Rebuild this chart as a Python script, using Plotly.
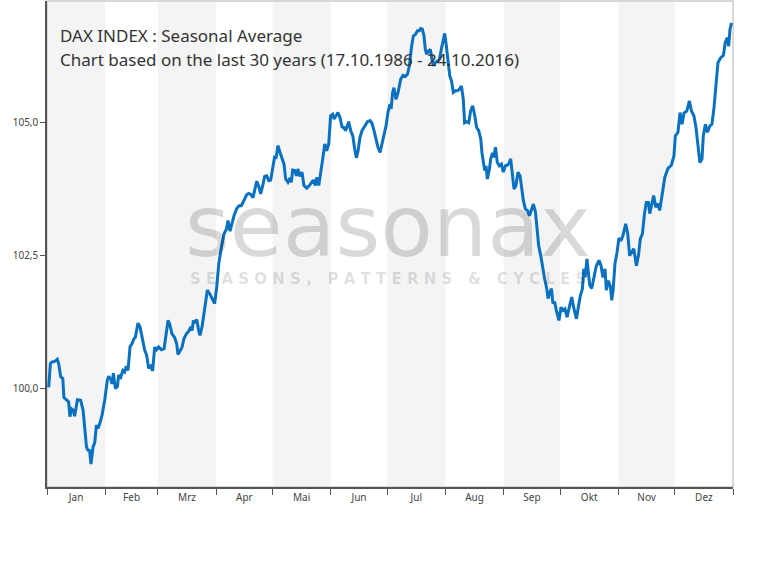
import plotly.graph_objects as go

# Seasonal average, day of year vs index value
days = [0.9, 1.8, 2.7, 4.1, 5.5, 6.2, 7.3, 8.4, 9.0, 10.5, 11.5, 12.2, 13.0, 14.0, 14.7, 16.2, 17.9, 19.2, 20.1, 21.0,
        21.8, 22.7, 23.4, 24.5, 25.4, 26.3, 27.1, 28.0, 29.3, 30.7, 32.1, 32.8, 33.9, 34.6, 35.3, 36.4, 37.5, 38.1, 39.2, 40.4,
        41.3, 42.2, 43.1, 44.2, 45.2, 46.3, 47.0, 48.4, 49.5, 50.5, 52.0, 53.0, 54.1, 55.2, 56.2, 57.3, 58.3, 59.4, 60.9, 62.3,
        63.5, 64.4, 65.3, 66.5, 67.9, 69.0, 69.7, 70.8, 71.8, 72.9, 74.2, 75.4, 76.5, 77.2, 77.9, 78.6, 79.7, 80.7, 81.4, 82.5,
        83.5, 83.9, 85.3, 86.6, 87.8, 89.2, 90.3, 91.4, 92.8, 94.2, 95.5, 96.3, 97.4, 98.4, 99.5, 100.9, 102.2, 103.4, 104.8, 106.3,
        107.3, 108.4, 109.6, 110.5, 111.6, 112.7, 113.7, 114.8, 115.8, 116.9, 118.0, 119.0, 120.1, 121.2, 121.8, 122.9, 124.0, 125.0, 126.1, 127.0,
        128.2, 129.3, 130.0, 130.7, 131.8, 132.7, 133.5, 134.6, 135.7, 136.7, 138.2, 139.6, 140.7, 141.7, 142.8, 143.5, 144.6, 145.6, 146.7, 147.8,
        148.8, 149.9, 150.9, 152.0, 152.7, 153.8, 154.8, 155.9, 157.0, 158.0, 158.8, 159.8, 160.5, 161.6, 162.7, 163.7, 164.6, 165.5, 166.5, 167.6,
        169.0, 170.5, 171.9, 172.9, 174.0, 175.3, 176.1, 177.2, 178.2, 179.3, 180.4, 181.4, 182.5, 183.1, 183.9, 184.6, 185.7, 186.8, 188.2, 189.4,
        190.7, 191.8, 192.8, 193.9, 194.9, 196.0, 197.1, 198.1, 198.8, 199.7, 200.6, 201.3, 202.0, 203.1, 204.0, 204.8, 205.7, 206.6, 207.7, 208.8,
        209.8, 210.7, 211.6, 212.5, 213.4, 214.3, 215.2, 216.2, 217.3, 218.4, 219.4, 220.5, 221.5, 222.2, 223.3, 224.4, 225.4, 226.5, 227.6, 228.6,
        229.7, 230.8, 231.4, 232.2, 232.9, 233.6, 234.3, 235.4, 236.1, 237.1, 237.8, 238.6, 239.6, 240.7, 241.8, 242.8, 243.9, 245.0, 246.0, 246.7,
        247.4, 248.5, 249.5, 250.6, 251.7, 252.4, 253.5, 254.5, 255.6, 256.7, 257.7, 258.8, 259.9, 260.9, 261.6, 262.7, 263.7, 264.8, 265.9, 266.6,
        267.6, 268.4, 269.2, 270.1, 271.0, 272.4, 273.5, 274.5, 275.6, 276.7, 278.1, 279.2, 280.2, 281.7, 282.7, 283.8, 284.9, 285.6, 286.3, 287.3,
        288.1, 288.8, 289.8, 290.9, 292.3, 293.7, 294.8, 295.8, 296.9, 297.6, 298.7, 299.8, 300.5, 301.2, 302.2, 303.3, 304.3, 305.4, 306.5, 307.9,
        309.0, 310.0, 311.1, 312.2, 313.6, 314.7, 315.7, 316.8, 317.9, 318.9, 320.0, 320.7, 321.8, 322.8, 323.9, 325.0, 326.0, 327.1, 328.1, 328.7,
        330.4, 332.2, 333.6, 334.3, 335.7, 336.8, 337.9, 338.9, 340.4, 341.8, 342.9, 344.2, 345.3, 346.4, 347.4, 348.5, 349.2, 350.3, 351.4, 352.7,
        353.8, 354.9, 355.9, 357.0, 358.4, 359.9, 360.9, 362.0, 362.7, 363.4, 364.2]

values = [100.02, 100.47, 100.50, 100.51, 100.55, 100.47, 100.22, 100.19, 99.83, 99.79, 99.75, 99.47, 99.62, 99.59, 99.48, 99.79, 99.78, 99.59, 99.22, 98.90,
          98.84, 98.83, 98.58, 98.90, 98.98, 99.31, 99.25, 99.33, 99.50, 99.78, 100.16, 100.23, 100.17, 100.09, 100.29, 100.00, 100.04, 100.25, 100.21, 100.34,
          100.31, 100.42, 100.34, 100.79, 100.84, 100.94, 100.96, 101.23, 101.16, 100.97, 100.72, 100.63, 100.38, 100.42, 100.33, 100.78, 100.73, 100.78, 100.73, 100.75,
          101.09, 101.28, 101.21, 101.03, 100.96, 100.84, 100.64, 100.71, 100.77, 100.94, 101.03, 101.08, 101.16, 101.09, 101.28, 101.23, 101.30, 101.09, 101.00, 101.16,
          101.42, 101.48, 101.85, 101.78, 101.69, 101.60, 101.91, 102.35, 102.66, 102.91, 103.00, 103.16, 102.96, 103.11, 103.25, 103.38, 103.44, 103.44, 103.55, 103.65,
          103.67, 103.65, 103.59, 103.75, 103.90, 103.80, 103.66, 103.82, 103.99, 104.00, 103.91, 103.92, 104.19, 104.38, 104.32, 104.57, 104.44, 104.35, 104.22, 103.94,
          103.88, 103.96, 103.88, 104.11, 104.10, 104.00, 104.13, 103.99, 104.07, 103.82, 103.77, 103.82, 103.88, 103.92, 103.82, 103.97, 103.82, 104.10, 104.32, 104.60,
          104.47, 104.60, 105.13, 105.16, 105.07, 105.13, 105.19, 105.10, 104.92, 104.91, 104.85, 104.94, 105.02, 104.85, 104.75, 104.51, 104.34, 104.47, 104.72, 104.85,
          104.94, 105.02, 105.04, 104.99, 104.85, 104.66, 104.54, 104.44, 104.60, 104.82, 104.94, 105.19, 105.35, 105.26, 105.57, 105.66, 105.44, 105.57, 105.82, 105.89,
          105.87, 105.91, 106.07, 106.41, 106.63, 106.66, 106.73, 106.73, 106.77, 106.76, 106.63, 106.38, 106.29, 106.35, 106.38, 106.19, 106.07, 106.13, 106.16, 106.19,
          106.38, 106.54, 106.68, 106.44, 106.19, 105.88, 105.79, 105.57, 105.60, 105.60, 105.63, 105.69, 105.44, 105.00, 105.02, 105.00, 105.22, 105.32, 105.13, 104.91,
          104.85, 104.69, 104.44, 104.25, 104.10, 104.19, 103.94, 104.13, 104.32, 104.43, 104.35, 104.54, 104.25, 104.19, 104.22, 104.07, 104.19, 104.20, 104.25, 104.32,
          104.07, 103.75, 103.82, 104.07, 104.00, 103.78, 103.53, 103.38, 103.35, 103.25, 103.38, 103.47, 103.32, 103.00, 102.69, 102.50, 102.25, 102.06, 101.88, 101.69,
          101.81, 101.88, 101.60, 101.63, 101.47, 101.28, 101.53, 101.47, 101.50, 101.34, 101.56, 101.72, 101.53, 101.31, 101.53, 101.75, 101.88, 102.25, 102.09, 102.44,
          102.16, 101.94, 101.88, 102.09, 102.31, 102.41, 102.31, 102.09, 102.25, 101.85, 102.03, 101.91, 101.66, 101.85, 102.35, 102.56, 102.83, 102.78, 102.88, 103.10,
          102.91, 102.50, 102.56, 102.63, 102.31, 102.50, 102.82, 102.91, 103.29, 103.50, 103.50, 103.29, 103.47, 103.63, 103.41, 103.48, 103.35, 103.60, 103.88, 103.97,
          104.14, 104.20, 104.38, 104.75, 104.82, 105.19, 104.97, 105.18, 105.22, 105.41, 105.22, 105.13, 104.91, 104.51, 104.25, 104.32, 104.75, 104.97, 104.82, 104.94,
          104.97, 105.29, 105.69, 106.13, 106.22, 106.27, 106.51, 106.60, 106.44, 106.76, 106.88]

month_labels = ["Jan", "Feb", "Mrz", "Apr", "Mai", "Jun", "Jul", "Aug", "Sep", "Okt", "Nov", "Dez"]
month_starts = [0, 31, 59, 90, 120, 151, 181, 212, 243, 273, 304, 334, 365]
y_ticks = [100.0, 102.5, 105.0]

title_lines = ["DAX INDEX : Seasonal Average",
               "Chart based on the last 30 years (17.10.1986 - 24.10.2016)"]

month_mid = [(month_starts[i] + month_starts[i + 1]) / 2 for i in range(12)]

fig = go.Figure()
fig.add_trace(go.Scatter(x=days, y=values, mode="lines",
                         line=dict(color="#0a70c0", width=3), hoverinfo="skip"))

shapes = []
for i in range(0, 12, 2):
    shapes.append(dict(type="rect", xref="x", yref="paper",
                       x0=month_starts[i], x1=month_starts[i + 1], y0=0, y1=1,
                       fillcolor="#f4f4f4", line=dict(width=0), layer="below"))
shapes.append(dict(type="rect", xref="paper", yref="paper", x0=0, x1=1, y0=0, y1=1,
                   line=dict(color="#cccccc", width=1.5), layer="below"))

axis_font = dict(family="Noto Sans", size=10, color="#444444")

fig.update_layout(
    width=775, height=567,
    margin=dict(l=47, r=42, t=1, b=80),
    paper_bgcolor="white", plot_bgcolor="white",
    separators=",.",
    showlegend=False,
    shapes=shapes,
    xaxis=dict(range=[0, 365], tickvals=month_mid, ticktext=month_labels,
               ticks="", showgrid=False, zeroline=False, automargin=False,
               showline=True, linecolor="#555555", linewidth=1.5,
               tickfont=axis_font,
               minor=dict(tickvals=month_starts, ticks="outside", ticklen=6,
                          tickcolor="#555555", tickwidth=1, showgrid=False)),
    yaxis=dict(range=[98.147, 107.29], tickvals=y_ticks, tickformat=".1f",
               ticks="outside", ticklen=5, tickcolor="#555555",
               showgrid=False, zeroline=False, automargin=False,
               showline=True, linecolor="#555555", linewidth=1.5,
               tickfont=axis_font),
    annotations=[
        dict(text="seasonax", xref="paper", yref="paper", x=0.497, y=0.538,
             xanchor="center", yanchor="middle", showarrow=False,
             height=64, valign="middle",
             font=dict(family="DejaVu Sans", size=86, color="rgba(0,0,0,0.15)")),
        dict(text="S E A S O N S ,   P A T T E R N S   &   C Y C L E S",
             xref="paper", yref="paper", x=0.497, y=0.428,
             xanchor="center", yanchor="middle", showarrow=False,
             font=dict(family="DejaVu Sans", size=15, weight="bold",
                       color="rgba(0,0,0,0.13)")),
        dict(text=title_lines[0], xref="paper", yref="paper", x=(58 - 47) / 686, y=1 - 34 / 486,
             xanchor="left", yanchor="middle", showarrow=False,
             font=dict(family="Noto Sans", size=17, color="#333333")),
        dict(text=title_lines[1], xref="paper", yref="paper", x=(58 - 47) / 686, y=1 - 58 / 486,
             xanchor="left", yanchor="middle", showarrow=False,
             font=dict(family="Noto Sans", size=17, color="#333333")),
    ],
)

fig.write_html("out.html", config={"displayModeBar": False},
               post_script="document.body.style.margin='0px';")
